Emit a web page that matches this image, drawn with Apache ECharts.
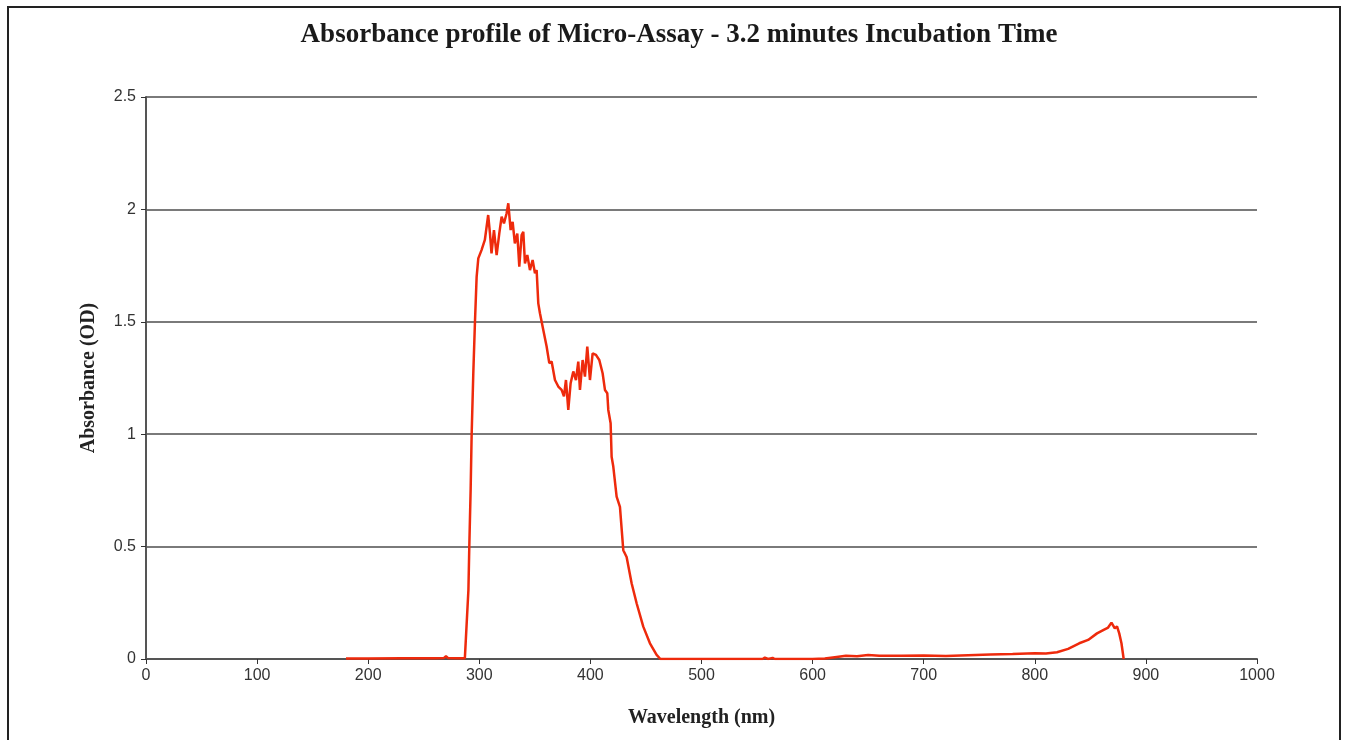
<!DOCTYPE html>
<html>
<head>
    <meta charset="utf-8">
    <title>Absorbance profile</title>
    <script src="https://cdn.jsdelivr.net/npm/echarts@6/dist/echarts.min.js"></script>
    <style>
        html, body { margin: 0; padding: 0; background: #fff; }
    </style>
</head>
<body>
<div id="main" style="width: 1350px;height:740px;"></div>
<script type="text/javascript">
    // wavelength (nm) and absorbance (OD)
    const wavelengths = [
        180, 200, 230, 260, 268, 270, 272, 280, 287, 288.6, 290.2, 291, 292.2, 293.1, 294.6, 296.1, 297.6, 299.1,
        302, 305, 308, 309.6, 311, 313.2, 315.6, 318, 320.1, 322.2, 324.6, 326.1, 328.2, 330, 332, 334.2,
        336, 338.1, 339.6, 341.1, 343.2, 345.6, 348, 350.1, 351.6, 353.1, 354.6, 357.6, 360.6, 363, 365.1,
        368.1, 371.1, 374.1, 376.2, 378, 380.1, 382.2, 384.6, 387, 389.1, 390.6, 393, 395.1, 397.2, 399.6,
        402, 405, 408, 411, 413.1, 415.2, 416.1, 418.2, 419.1, 420.6, 423.6, 426.6, 429.6, 432.6, 437.1,
        441.6, 447.6, 453.6, 459.6, 463, 500, 555, 557, 560, 564, 566, 600, 611, 620, 630, 640, 650, 660,
        680, 700, 720, 740, 760, 780, 800, 810, 820, 830, 840, 848, 856, 862, 866, 869, 872, 874, 876, 878, 880
    ];
    const absorbance = [
        0.002, 0.002, 0.003, 0.003, 0.004, 0.012, 0.004, 0.003, 0.003, 0.01, 0.307, 0.5, 0.752, 0.996, 1.271, 1.5, 1.7, 1.782,
        1.819, 1.864, 1.975, 1.893, 1.804, 1.908, 1.797, 1.893, 1.968, 1.938, 1.983, 2.027, 1.908, 1.945, 1.849, 1.893,
        1.745, 1.886, 1.9, 1.76, 1.797, 1.73, 1.775, 1.716, 1.73, 1.582, 1.538, 1.464, 1.39, 1.316, 1.323,
        1.241, 1.212, 1.197, 1.168, 1.241, 1.108, 1.227, 1.279, 1.241, 1.323, 1.197, 1.33, 1.256, 1.39, 1.241,
        1.36, 1.353, 1.33, 1.271, 1.197, 1.182, 1.108, 1.049, 0.9, 0.856, 0.722, 0.677, 0.484, 0.454, 0.337,
        0.248, 0.144, 0.07, 0.018, 0, 0, 0, 0.006, 0, 0.005, 0, 0, 0.002, 0.008, 0.014, 0.012, 0.018, 0.015,
        0.014, 0.016, 0.013, 0.017, 0.02, 0.022, 0.026, 0.024, 0.03, 0.045, 0.07, 0.085, 0.114, 0.13, 0.14, 0.162, 0.136, 0.145, 0.114, 0.07, 0
    ];

    const seriesData = wavelengths.map(function (w, i) { return [w, absorbance[i]]; });

    const myChart = echarts.init(document.getElementById('main'));
    const option = {
        animation: false,
        backgroundColor: '#fff',
        title: {
            text: 'Absorbance profile of Micro-Assay - 3.2 minutes Incubation Time',
            left: 674,
            top: 17,
            textAlign: 'center',
            textStyle: {
                fontFamily: 'Liberation Serif',
                fontWeight: 'bold',
                fontSize: 27,
                color: '#1a1a1a'
            }
        },
        graphic: [{
            type: 'rect',
            shape: { x: 8, y: 7, width: 1332, height: 760 },
            style: { fill: 'none', stroke: '#222', lineWidth: 2 },
            silent: true
        }],
        grid: { left: 146, right: 93, top: 97, bottom: 81 },
        xAxis: {
            type: 'value',
            min: 0,
            max: 1000,
            interval: 100,
            name: 'Wavelength (nm)',
            nameLocation: 'middle',
            nameGap: 49,
            nameTextStyle: { fontFamily: 'Liberation Serif', fontWeight: 'bold', fontSize: 20, color: '#222' },
            axisLine: { lineStyle: { color: '#555', width: 2 } },
            axisTick: { show: true, length: 5, inside: false, lineStyle: { color: '#333' } },
            axisLabel: {
                fontFamily: 'Liberation Sans', fontSize: 16, color: '#333', margin: 9,
                formatter: function (v) { return String(v); }
            },
            splitLine: { show: false }
        },
        yAxis: {
            type: 'value',
            min: 0,
            max: 2.5,
            interval: 0.5,
            name: 'Absorbance (OD)',
            nameLocation: 'middle',
            nameGap: 47,
            nameRotate: 90,
            nameTextStyle: { fontFamily: 'Liberation Serif', fontWeight: 'bold', fontSize: 20, color: '#222' },
            axisLine: { show: true, lineStyle: { color: '#555', width: 2 } },
            axisTick: { show: true, length: 5, lineStyle: { color: '#333' } },
            axisLabel: { fontFamily: 'Liberation Sans', fontSize: 16, color: '#333', margin: 10 },
            splitLine: { show: true, lineStyle: { color: '#7a7a7a', width: 2 } }
        },
        series: [{
            type: 'line',
            data: seriesData,
            showSymbol: false,
            lineStyle: { color: '#ee2a0c', width: 2.5 },
            z: 3
        }]
    };
    myChart.setOption(option);
</script>
</body>
</html>
